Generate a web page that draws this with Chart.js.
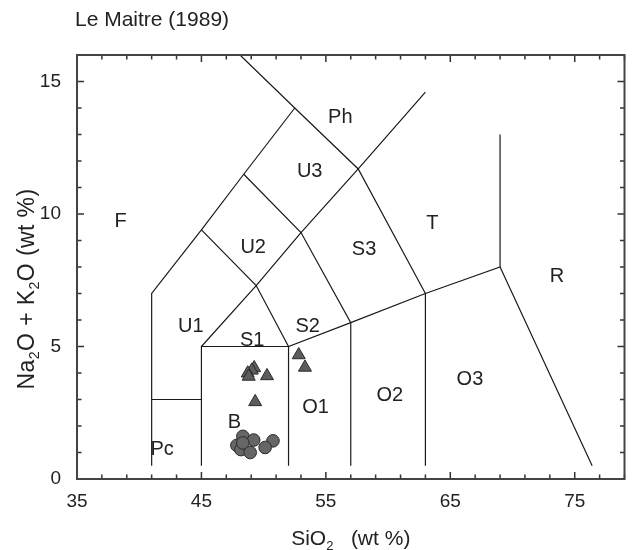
<!DOCTYPE html>
<html lang="en">
<head>
<meta charset="UTF-8">
<title>TAS - Le Maitre (1989)</title>
<script src="https://cdn.jsdelivr.net/npm/chart.js"></script>
<style>
  html, body { margin: 0; padding: 0; background: #fff; }
  #wrap { width: 633px; height: 550px; }
</style>
</head>
<body>
<div id="wrap"><canvas id="tas" width="633" height="550"></canvas></div>
<script>
  // axes
  const xRange = [35, 79];
  const yRange = [0, 16];
  const xTickLabels = [35, 45, 55, 65, 75];
  const yTickLabels = [0, 5, 10, 15];
  const xMinorStep = 2;
  const yMinorStep = 1;

  // samples (SiO2 vs Na2O+K2O)
  const triSiO2 = [49.24, 49.05, 48.72, 48.80, 50.27, 49.32, 52.82, 53.32];
  const triAlk  = [4.19, 4.10, 3.99, 3.87, 3.89, 2.91, 4.68, 4.21];
  const dotSiO2 = [48.33, 49.20, 50.75, 50.12, 47.85, 48.17, 48.33, 48.92];
  const dotAlk  = [1.61, 1.47, 1.44, 1.19, 1.27, 1.11, 1.36, 1.00];

  // field boundaries
  const boundaries = [
    [[41, 0.5], [41, 7], [45, 9.4], [48.4, 11.5], [52.5, 14]],
    [[48.1, 16], [52.5, 14], [57.6, 11.7], [63, 7]],
    [[41, 3], [45, 3]],
    [[45, 0.5], [45, 5], [52, 5], [52, 0.5]],
    [[45, 5], [49.4, 7.3], [53, 9.3], [57.6, 11.7], [63, 14.6]],
    [[45, 9.4], [49.4, 7.3], [52, 5], [57, 5.9], [63, 7], [69, 8], [76.4, 0.5]],
    [[48.4, 11.5], [53, 9.3], [57, 5.9], [57, 0.5]],
    [[63, 7], [63, 0.5]],
    [[69, 8], [69, 13]]
  ];

  // field names
  const fieldNames = ['F', 'U1', 'S1', 'S2', 'U2', 'U3', 'Ph', 'S3', 'T', 'R', 'O1', 'O2', 'O3', 'B', 'Pc'];
  const fieldSiO2  = [38.5, 44.15, 49.08, 53.54, 49.16, 53.7, 56.16, 58.07, 63.56, 73.58, 54.17, 60.14, 66.58, 47.65, 41.84];
  const fieldAlk   = [9.71, 5.74, 5.21, 5.74, 8.73, 11.6, 13.64, 8.65, 9.63, 7.63, 2.68, 3.14, 3.74, 2.12, 1.13];

  const FONT = "'Liberation Sans', Arial, Helvetica, sans-serif";
  const INK = '#222';

  const lineSets = boundaries.map(pts => ({
    data: pts.map(p => ({ x: p[0], y: p[1] })),
    showLine: true,
    borderColor: '#1a1a1a',
    borderWidth: 1.2,
    pointRadius: 0,
    order: 2
  }));

  const triangles = {
    data: triSiO2.map((x, i) => ({ x: x, y: triAlk[i] })),
    pointStyle: 'triangle',
    pointRadius: 7.5,
    backgroundColor: '#5c5c5c',
    borderColor: '#2a2a2a',
    borderWidth: 1,
    order: 0
  };
  const dots = {
    data: dotSiO2.map((x, i) => ({ x: x, y: dotAlk[i] })),
    pointStyle: 'circle',
    pointRadius: 6.3,
    backgroundColor: '#666',
    borderColor: '#2a2a2a',
    borderWidth: 1,
    order: 0
  };

  // frame + inward ticks on all four sides
  const framePlugin = {
    id: 'frame',
    afterDatasetsDraw(chart) {
      const { ctx, chartArea: a, scales: { x, y } } = chart;
      ctx.save();
      ctx.strokeStyle = '#333';
      ctx.lineWidth = 1.5;
      ctx.beginPath();
      for (let v = xRange[0]; v <= xRange[1]; v += xMinorStep) {
        const px = x.getPixelForValue(v);
        const len = xTickLabels.includes(v) ? 7 : 4.5;
        ctx.moveTo(px, a.bottom); ctx.lineTo(px, a.bottom - len);
        ctx.moveTo(px, a.top); ctx.lineTo(px, a.top + len);
      }
      for (let v = yRange[0]; v <= yRange[1]; v += yMinorStep) {
        const py = y.getPixelForValue(v);
        const len = yTickLabels.includes(v) ? 7 : 4.5;
        ctx.moveTo(a.left, py); ctx.lineTo(a.left + len, py);
        ctx.moveTo(a.right, py); ctx.lineTo(a.right - len, py);
      }
      ctx.stroke();
      ctx.strokeStyle = '#444';
      ctx.lineWidth = 2;
      ctx.strokeRect(a.left, a.top, a.right - a.left, a.bottom - a.top);
      ctx.restore();
    }
  };

  // text made of normal and subscript runs
  function runs(ctx, parts, size) {
    let w = 0;
    parts.forEach(p => {
      ctx.font = (p.sub ? size * 0.62 : size) + 'px ' + FONT;
      w += ctx.measureText(p.t).width;
    });
    return w;
  }
  function drawRuns(ctx, parts, size, x, y) {
    parts.forEach(p => {
      ctx.font = (p.sub ? size * 0.62 : size) + 'px ' + FONT;
      ctx.fillText(p.t, x, p.sub ? y + size * 0.22 : y);
      x += ctx.measureText(p.t).width;
    });
  }

  const textPlugin = {
    id: 'texts',
    afterDraw(chart) {
      const { ctx, chartArea: a, scales: { x, y } } = chart;
      ctx.save();
      ctx.fillStyle = INK;

      // field names
      ctx.font = '20px ' + FONT;
      ctx.textAlign = 'center';
      ctx.textBaseline = 'middle';
      fieldNames.forEach((n, i) => {
        ctx.fillText(n, x.getPixelForValue(fieldSiO2[i]), y.getPixelForValue(fieldAlk[i]));
      });

      // title
      ctx.textAlign = 'left';
      ctx.textBaseline = 'alphabetic';
      ctx.font = '21px ' + FONT;
      ctx.fillText('Le Maitre (1989)', 75, 26);

      // x axis title
      const xt = [{ t: 'SiO' }, { t: '2', sub: true }, { t: '   (wt %)' }];
      const xw = runs(ctx, xt, 21);
      drawRuns(ctx, xt, 21, (a.left + a.right) / 2 - xw / 2, 545);

      // y axis title
      ctx.letterSpacing = '0.4px';
      const yt = [{ t: 'Na' }, { t: '2', sub: true }, { t: 'O + K' }, { t: '2', sub: true }, { t: 'O (wt %)' }];
      const yw = runs(ctx, yt, 23);
      ctx.translate(34, 289);
      ctx.rotate(-Math.PI / 2);
      drawRuns(ctx, yt, 23, -yw / 2, 0);
      ctx.restore();
    }
  };

  new Chart(document.getElementById('tas'), {
    type: 'scatter',
    data: { datasets: [triangles, dots, ...lineSets] },
    options: {
      responsive: false,
      animation: false,
      layout: { padding: { left: 0, top: 55, right: 4, bottom: 0 } },
      plugins: { legend: { display: false }, tooltip: { enabled: false } },
      scales: {
        x: {
          type: 'linear', min: xRange[0], max: xRange[1],
          grid: { display: false, drawTicks: false },
          border: { display: false },
          afterBuildTicks: s => { s.ticks = xTickLabels.map(v => ({ value: v })); },
          afterFit: s => { s.height = 71; },
          ticks: { font: { family: FONT, size: 19 }, color: INK, padding: 11, maxRotation: 0, autoSkip: false }
        },
        y: {
          type: 'linear', min: yRange[0], max: yRange[1],
          grid: { display: false, drawTicks: false },
          border: { display: false },
          afterBuildTicks: s => { s.ticks = yTickLabels.map(v => ({ value: v })); },
          afterFit: s => { s.width = 77; },
          ticks: { font: { family: FONT, size: 19 }, color: INK, padding: 16, autoSkip: false }
        }
      }
    },
    plugins: [framePlugin, textPlugin]
  });
</script>
</body>
</html>
